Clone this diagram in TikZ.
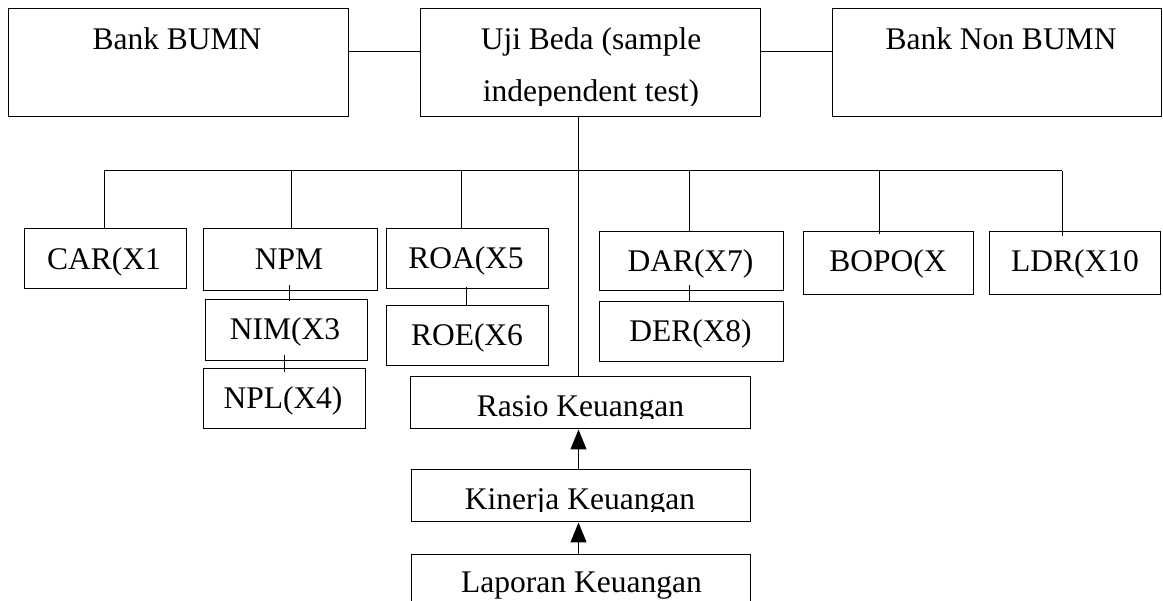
\documentclass[tikz,border=0pt]{standalone}
\usepackage{fontspec}
\setmainfont{Liberation Serif}
\usetikzlibrary{arrows.meta}
\begin{document}
\begin{tikzpicture}[x=1pt,y=-1pt,
  box/.style={draw, line width=1pt, rectangle, inner sep=0pt},
  lbl/.style={anchor=base, inner sep=0pt, font=\fontsize{31.5}{37}\selectfont},
  link/.style={line width=1pt},
  arr/.style={line width=1pt, -{Triangle[width=16pt,length=20pt]}}]
\useasboundingbox (0,0) rectangle (1163,601);
\clip (0,0) rectangle (1163,601);
\fill[white] (0,0) rectangle (1163,601);
% boxes
\node[box, minimum width=340pt, minimum height=108pt] (bumn) at (178,63) {};
\node[box, minimum width=340pt, minimum height=108pt] (uji) at (590,63) {};
\node[box, minimum width=329pt, minimum height=108pt] (non) at (996.5,63) {};
\node[box, minimum width=162pt, minimum height=60pt] (car) at (105,259) {};
\node[box, minimum width=174pt, minimum height=62pt] (npm) at (290,260) {};
\node[box, minimum width=162pt, minimum height=61pt] (nim) at (286,330.5) {};
\node[box, minimum width=162pt, minimum height=60pt] (npl) at (284,399) {};
\node[box, minimum width=162pt, minimum height=60pt] (roa) at (467,259) {};
\node[box, minimum width=162pt, minimum height=60pt] (roe) at (467,336) {};
\node[box, minimum width=184pt, minimum height=59pt] (dar) at (691,261.5) {};
\node[box, minimum width=184pt, minimum height=60pt] (der) at (691,332) {};
\node[box, minimum width=170pt, minimum height=63pt] (bopo) at (888,263.5) {};
\node[box, minimum width=171pt, minimum height=63pt] (ldr) at (1074.5,263.5) {};
\node[box, minimum width=340pt, minimum height=52pt] (rasio) at (580,403) {};
\node[box, minimum width=339pt, minimum height=52pt] (kin) at (580.5,496) {};
\node[box, minimum width=339pt, minimum height=85pt] (lap) at (580.5,597.5) {};
% texts
\node[lbl] (tbumn) at (177,50) {Bank BUMN};
\node[lbl] (tuji1) at (591,50) {Uji Beda (sample};
\begin{scope}
  \clip (uji.north west) rectangle (760,106);
  \node[lbl] (tuji2) at (591,102) {independent test)};
\end{scope}
\node[lbl] (tnon) at (1001,50) {Bank Non BUMN};
\node[lbl] (tcar) at (104,270) {CAR(X1};
\node[lbl] (tnpm) at (289,270) {NPM};
\node[lbl] (tnim) at (285,340) {NIM(X3};
\node[lbl] (tnpl) at (283,409) {NPL(X4)};
\node[lbl] (troa) at (466,269) {ROA(X5};
\node[lbl] (troe) at (467,346) {ROE(X6};
\node[lbl] (tdar) at (690.5,272) {DAR(X7)};
\node[lbl] (tder) at (690.5,342) {DER(X8)};
\node[lbl] (tbopo) at (888,272) {BOPO(X};
\node[lbl] (tldr) at (1075,272) {LDR(X10};
\begin{scope}
  \clip (rasio.north west) rectangle (750,418.5);
  \node[lbl] (trasio) at (580.5,417) {Rasio Keuangan};
\end{scope}
\begin{scope}
  \clip (kin.north west) rectangle (750,512);
  \node[lbl] (tkin) at (580,510) {Kinerja Keuangan};
\end{scope}
\node[lbl] (tlap) at (581.5,593) {Laporan Keuangan};
% top links
\coordinate (ly) at (0,52);
\draw[link] (bumn.east |- ly) -- (uji.west |- ly);
\draw[link] (uji.east |- ly) -- (non.west |- ly);
% trunk
\coordinate (tr) at (578.5,0);
\draw[link] (uji.south -| tr) -- (rasio.north -| tr);
% branch line
\coordinate (b1) at (104,171);
\coordinate (b2) at (291,171);
\coordinate (b3) at (461,171);
\coordinate (b4) at (689,171);
\coordinate (b5) at (879,171);
\coordinate (b6) at (1062,171);
\draw[link] (b1) -- (b6);
\draw[link] (b1) -- (b1 |- car.north);
\draw[link] (b2) -- (b2 |- npm.north);
\draw[link] (b3) -- (b3 |- roa.north);
\draw[link] (b4) -- (b4 |- dar.north);
\draw[link, shorten >=-3pt] (b5) -- (b5 |- bopo.north);
\draw[link, shorten >=-5pt] (b6) -- (b6 |- ldr.north);
% sub links
\coordinate (s1) at (289,0);
\coordinate (s2) at (284,0);
\coordinate (s3) at (466,0);
\coordinate (s4) at (689,0);
\draw[link, shorten <=-6pt, shorten >=-2pt] (npm.south -| s1) -- (nim.north -| s1);
\draw[link, shorten <=-6pt, shorten >=-4pt] (nim.south -| s2) -- (npl.north -| s2);
\draw[link, shorten <=-2pt] (roa.south -| s3) -- (roe.north -| s3);
\draw[link, shorten <=-6pt] (dar.south -| s4) -- (der.north -| s4);
% arrows
\draw[arr] (kin.north -| tr) -- (rasio.south -| tr);
\draw[arr] (lap.north -| tr) -- (kin.south -| tr);
\end{tikzpicture}
\end{document}
